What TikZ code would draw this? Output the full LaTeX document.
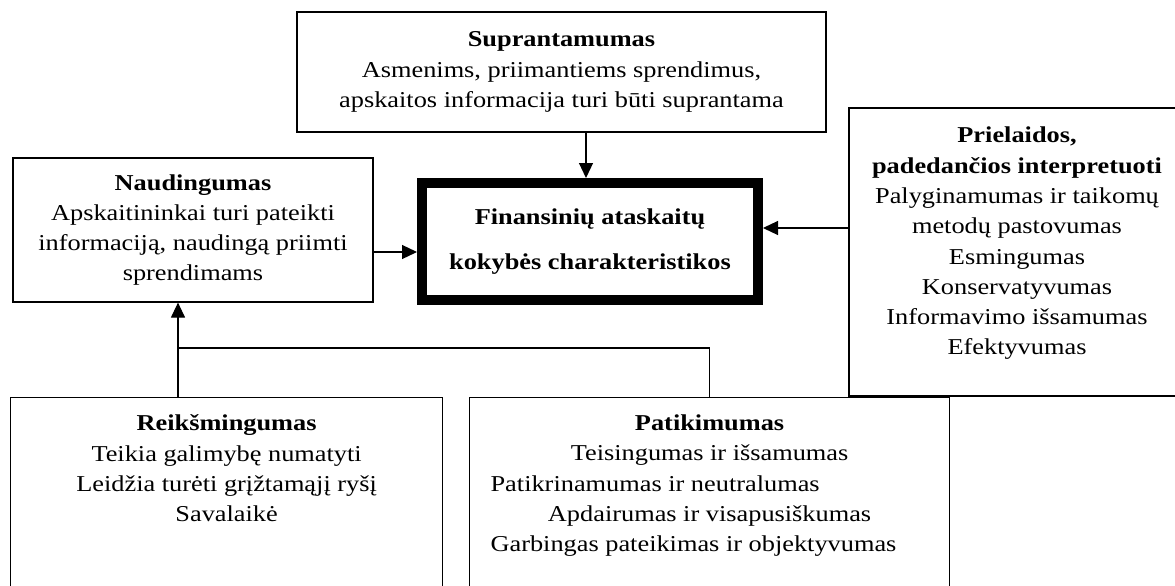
\documentclass[tikz,border=0pt]{standalone}
\usepackage{fontspec}
\setmainfont{Liberation Serif}[FakeStretch=1.16]
\usetikzlibrary{arrows.meta,positioning}

\tikzset{
  box/.style={draw, line width=1.2pt, inner sep=0pt},
  mainbox/.style={draw, line width=10pt, inner sep=0pt, align=center},
  txt/.style={align=center, inner sep=0pt, anchor=north},
  arr/.style={line width=1.2pt, -{Triangle[length=15pt,width=14pt]}},
  link/.style={line width=1.2pt},
}

\begin{document}
\begin{tikzpicture}[x=1pt, y=-1pt, font=\fontsize{22.7}{30.3}\selectfont]
      \clip (0,0) rectangle (1175,586);

      % Boxes
      \node[box, align=center, minimum width=529pt, minimum height=120pt] (supr) at (561.5,72)
        {\textbf{Suprantamumas}\\Asmenims, priimantiems sprendimus,\\apskaitos informacija turi būti suprantama};
      \node[box, align=center, minimum width=360pt, minimum height=144pt] (naud) at (193,230)
        {\textbf{Naudingumas}\\Apskaitininkai turi pateikti\\informaciją, naudingą priimti\\sprendimams};
      \node[mainbox, minimum width=336pt, minimum height=117pt] (cen) at (590,241.5)
        {\textbf{Finansinių ataskaitų}\\[14pt]\textbf{kokybės charakteristikos}};
      \node[box, minimum width=336pt, minimum height=288pt] (prie) at (1017,252) {};
      \node[box, minimum width=432pt, minimum height=240pt, anchor=north west] (reik) at (10,397) {};
      \node[box, minimum width=480pt, minimum height=240pt, anchor=north west] (patik) at (469,397) {};

      % Texts
      \node[txt] (prietxt) at ([yshift=-19.5pt]prie.north)
        {\textbf{Prielaidos,}\\\textbf{padedančios interpretuoti}\\Palyginamumas ir taikomų\\metodų pastovumas\\Esmingumas\\Konservatyvumas\\Informavimo išsamumas\\Efektyvumas};
      \node[txt] (reiktxt) at ([yshift=-17.5pt]reik.north)
        {\textbf{Reikšmingumas}\\Teikia galimybę numatyti\\Leidžia turėti grįžtamąjį ryšį\\Savalaikė};
      \node[txt] (patiktxt) at ([yshift=-17.5pt]patik.north)
        {\textbf{Patikimumas}\\Teisingumas ir išsamumas\\\makebox[438pt][l]{Patikrinamumas ir neutralumas}\\Apdairumas ir visapusiškumas\\\makebox[438pt][l]{Garbingas pateikimas ir objektyvumas}};

      % Arrows
      \coordinate (join) at (178,348);
      \draw[arr] ([xshift=-4pt]cen.north |- supr.south) -- ([xshift=-4pt]cen.north);
      \draw[arr] ([yshift=-22pt]naud.east) -- ([yshift=-22pt]naud.east -| cen.west);
      \draw[arr] ([yshift=24pt]prie.west) -- ([yshift=24pt]prie.west -| cen.east);
      \draw[arr] (reik.north -| join) -- (naud.south -| join);
      \draw[link] (patik.north) |- (join);
\end{tikzpicture}
\end{document}
